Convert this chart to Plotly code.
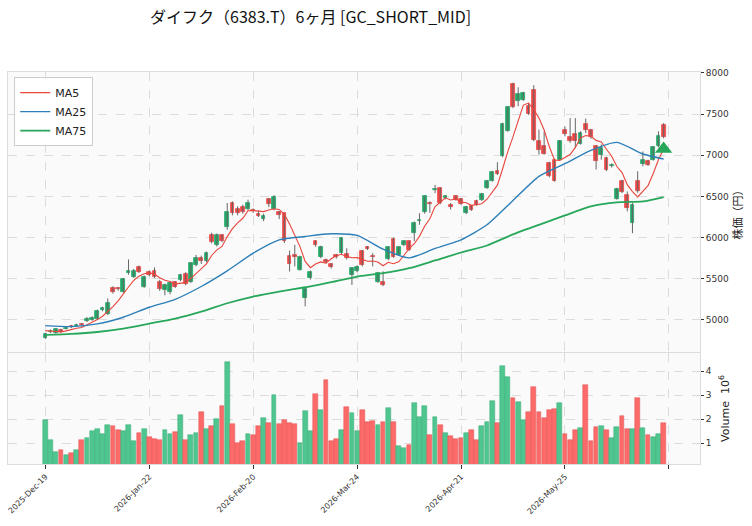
import numpy as np
import pandas as pd
import plotly.graph_objects as go

# ---------------- data ----------------
title_text = "ダイフク（6383.T）6ヶ月 [GC_SHORT_MID]"
start_date = "2025-12-19"
jp_holidays = ["2025-12-31", "2026-01-01", "2026-01-02", "2026-01-12", "2026-02-11",
               "2026-02-23", "2026-03-20", "2026-04-29", "2026-05-04", "2026-05-05", "2026-05-06"]

opens = [4780, 4855, 4845, 4880, 4895, 4925, 4925, 4945, 4990, 5005,
         5010, 5120, 5075, 5393, 5385, 5345, 5568, 5525, 5645, 5405,
         5580, 5596, 5458, 5365, 5345, 5458, 5487, 5556, 5466, 5669,
         5758, 5718, 6034, 5912, 6026, 6123, 6419, 6350, 6366, 6350,
         6340, 6285, 6224, 6470, 6350, 6305, 6295, 5775, 5790, 5612,
         5262, 5505, 5953, 5762, 5730, 5677, 5783, 5811, 5799, 5547,
         5595, 5835, 5880, 5775, 5466, 5462, 5740, 5983, 5791, 5908,
         5953, 6054, 6196, 6305, 6415, 6575, 6601, 6480, 6390, 6500,
         6465, 6300, 6386, 6445, 6460, 6601, 6690, 6812, 6990, 7298,
         7866, 7663, 7675, 7594, 7797, 7177, 7108, 6905, 6946, 6946,
         7310, 7217, 7258, 7136, 7379, 7310, 7108, 7006, 6966, 6865,
         6472, 6690, 6512, 6176, 6690, 6893, 6933, 6946, 7108, 7363]

highs = [4840, 4885, 4900, 4895, 4920, 4940, 4955, 4965, 5035, 5045,
         5125, 5160, 5262, 5410, 5400, 5510, 5735, 5620, 5660, 5540,
         5600, 5637, 5487, 5440, 5470, 5470, 5560, 5580, 5700, 5790,
         5780, 5830, 6060, 6050, 6040, 6419, 6440, 6380, 6400, 6460,
         6355, 6330, 6290, 6480, 6515, 6320, 6300, 5843, 5912, 5780,
         5400, 5600, 5965, 5900, 5745, 5690, 5800, 6000, 5870, 5640,
         5665, 5850, 5895, 5810, 5580, 5590, 5890, 6000, 5895, 5965,
         5965, 6195, 6295, 6510, 6440, 6640, 6610, 6515, 6420, 6515,
         6480, 6385, 6395, 6460, 6540, 6700, 6810, 6915, 7395, 7595,
         7880, 7825, 7770, 7635, 7850, 7310, 7290, 6920, 6960, 7185,
         7350, 7450, 7450, 7290, 7445, 7320, 7120, 7130, 6980, 6900,
         6605, 6700, 6560, 6420, 6805, 7045, 6945, 7110, 7290, 7390]

lows = [4770, 4840, 4835, 4845, 4885, 4900, 4915, 4920, 4975, 4990,
        5000, 5105, 5060, 5320, 5355, 5330, 5550, 5510, 5570, 5390,
        5530, 5510, 5353, 5300, 5312, 5390, 5470, 5420, 5450, 5650,
        5680, 5700, 5930, 5890, 5945, 6095, 6270, 6270, 6290, 6330,
        6300, 6250, 6200, 6370, 6330, 6225, 5935, 5588, 5650, 5600,
        5165, 5490, 5890, 5750, 5685, 5625, 5745, 5800, 5735, 5425,
        5580, 5650, 5850, 5650, 5450, 5410, 5725, 5755, 5780, 5895,
        5835, 5955, 6155, 6290, 6300, 6540, 6405, 6465, 6340, 6450,
        6400, 6285, 6325, 6385, 6445, 6590, 6680, 6760, 6975, 7285,
        7570, 7595, 7660, 7490, 7170, 7007, 7007, 6730, 6680, 6935,
        7230, 7150, 7090, 7130, 7270, 7200, 6825, 6945, 6810, 6850,
        6460, 6540, 6318, 6054, 6545, 6865, 6870, 6935, 7095, 7205]

closes = [4826, 4862, 4890, 4855, 4905, 4912, 4935, 4935, 5015, 5025,
          5112, 5140, 5200, 5335, 5372, 5499, 5596, 5600, 5585, 5527,
          5547, 5527, 5377, 5426, 5454, 5405, 5547, 5434, 5689, 5758,
          5710, 5811, 5945, 6034, 5961, 6309, 6297, 6297, 6309, 6419,
          6318, 6265, 6265, 6405, 6495, 6280, 5960, 5680, 5762, 5770,
          5380, 5582, 5904, 5890, 5698, 5641, 5762, 5993, 5750, 5628,
          5649, 5669, 5864, 5765, 5568, 5426, 5880, 5770, 5882, 5953,
          5847, 6176, 6216, 6500, 6405, 6590, 6419, 6500, 6368, 6462,
          6412, 6375, 6340, 6400, 6525, 6688, 6795, 6772, 7380, 7580,
          7582, 7744, 7756, 7501, 7189, 7067, 7015, 6743, 6690, 7169,
          7258, 7177, 7177, 7270, 7310, 7217, 6925, 7088, 6824, 6885,
          6593, 6553, 6358, 6398, 6569, 6946, 6885, 7096, 7229, 7217]

# volume in millions of shares
volumes_m = [1.97, 1.14, 0.64, 0.72, 0.51, 0.58, 0.72, 1.14, 1.22, 1.51,
             1.60, 1.39, 1.76, 1.72, 1.55, 1.51, 1.76, 1.09, 1.44, 1.60,
             1.25, 1.19, 1.14, 1.55, 1.39, 1.47, 2.18, 1.14, 1.35, 1.43,
             2.30, 1.60, 1.72, 2.01, 2.55, 4.39, 1.80, 1.01, 1.09, 1.39,
             1.35, 1.72, 2.05, 1.85, 3.01, 1.80, 1.97, 1.85, 1.80, 1.01,
             2.35, 1.51, 3.05, 2.39, 3.64, 1.09, 1.18, 1.55, 2.51, 2.26,
             1.51, 2.39, 1.89, 1.93, 1.76, 1.90, 2.49, 1.90, 0.89, 0.82,
             0.93, 2.69, 2.11, 2.55, 1.35, 2.11, 1.76, 1.44, 1.30, 1.18,
             1.23, 1.43, 1.55, 1.14, 1.72, 1.90, 2.76, 1.83, 4.22, 3.75,
             2.87, 2.71, 1.97, 2.30, 3.33, 2.30, 2.04, 2.39, 2.41, 2.67,
             1.39, 1.14, 1.55, 1.62, 3.43, 1.09, 1.66, 1.71, 1.55, 1.22,
             1.66, 2.14, 1.60, 1.60, 2.87, 1.62, 1.35, 1.25, 1.38, 1.86]

# closes just before the window (for the first MA5 values)
prior_closes = [4900, 4916, 4875, 4833]

# MA25 / MA75 at these bar positions
ma_idx = [0, 5, 10, 15, 20, 25, 30, 35, 40, 45, 50, 55, 60, 65, 70, 75, 80, 85, 90, 95,
          100, 105, 110, 115, 119]
ma25 = [4931, 4919, 4952, 5033, 5154, 5251, 5406, 5596, 5811, 5973, 6014, 6046, 6026,
        5860, 5754, 5868, 5973, 6155, 6450, 6743, 6897, 7059, 7156, 7015, 6954]
ma75 = [4818, 4830, 4854, 4895, 4956, 5017, 5101, 5203, 5284, 5345, 5397, 5458, 5527,
        5568, 5628, 5722, 5819, 5904, 6038, 6155, 6269, 6378, 6427, 6439, 6492]

signal_idx = [119]
signal_price = [7075]

price_ticks = [5000, 5500, 6000, 6500, 7000, 7500, 8000]
volume_ticks = [1, 2, 3, 4]

# ---------------- derived ----------------
n = len(closes)
x = np.arange(n)
bday = pd.offsets.CustomBusinessDay(holidays=pd.to_datetime(jp_holidays))
dates = pd.date_range(start=start_date, periods=n, freq=bday)
tick_pos = list(range(0, n, 20))
tick_text = [dates[i].strftime("%Y-%b-%d") for i in tick_pos]
end_tick = [n]  # unlabeled tick/grid at the end of the date locator

ma5 = pd.Series(prior_closes + closes).rolling(5).mean().iloc[len(prior_closes):].to_numpy()

o = np.array(opens, float)
c = np.array(closes, float)
up = c >= o

UP_C = "#22a867"
DN_C = "#ee4646"
VUP_C = "#4fc690"
VDN_C = "#fc6a6a"

body_base = np.minimum(o, c)
body_h = np.abs(c - o)
body_colors = [UP_C if u else DN_C for u in up]
vol_colors = [VUP_C if u else VDN_C for u in up]
vol_edge = ["#3aa874" if u else "#e05252" for u in up]

wx, wy = [], []
for i in range(n):
    wx += [i, i, None]
    wy += [lows[i], highs[i], None]

fig = go.Figure()

fig.add_trace(go.Scatter(x=wx, y=wy, mode="lines", line=dict(color="#666666", width=1),
                         showlegend=False, hoverinfo="skip", xaxis="x", yaxis="y"))
fig.add_trace(go.Bar(x=x, y=body_h, base=body_base, width=0.72,
                     marker=dict(color=body_colors, line=dict(color=body_colors, width=0.8)),
                     showlegend=False, xaxis="x", yaxis="y"))

fig.add_trace(go.Scatter(x=x, y=ma5, mode="lines", name="MA5",
                         line=dict(color="#e8453c", width=1.1), xaxis="x", yaxis="y"))
fig.add_trace(go.Scatter(x=ma_idx, y=ma25, mode="lines", name="MA25",
                         line=dict(color="#2c7fb8", width=1.4, shape="spline", smoothing=0.6),
                         xaxis="x", yaxis="y"))
fig.add_trace(go.Scatter(x=ma_idx, y=ma75, mode="lines", name="MA75",
                         line=dict(color="#27a75a", width=1.8, shape="spline", smoothing=0.6),
                         xaxis="x", yaxis="y"))
fig.add_trace(go.Scatter(x=signal_idx, y=signal_price, mode="markers", showlegend=False,
                         marker=dict(symbol="triangle-up", size=15, color="#27a75a"),
                         xaxis="x", yaxis="y"))

fig.add_trace(go.Bar(x=x, y=volumes_m, width=0.92,
                     marker=dict(color=vol_colors, line=dict(color=vol_edge, width=0.5)),
                     showlegend=False, xaxis="x2", yaxis="y2"))

grid = dict(showgrid=True, gridcolor="#dcdcdc", griddash="dash", gridwidth=0.8)
spine = dict(showline=True, linecolor="#dddddd", linewidth=1, mirror=True)
tickfont = dict(family="DejaVu Sans", size=9, color="#333333")
minor_x = dict(tickmode="array", tickvals=end_tick, showgrid=True, gridcolor="#dcdcdc",
               griddash="dash", gridwidth=0.8)

fig.update_layout(
    width=752, height=526,
    margin=dict(l=8, r=52, t=72, b=62),
    paper_bgcolor="white", plot_bgcolor="#fafafa",
    showlegend=True, barmode="overlay", bargap=0,
    font=dict(family="DejaVu Sans", size=10, color="#222222"),
    title=dict(text=title_text, x=150 / 752, xanchor="left", xref="container",
               y=1 - 17 / 526, yanchor="middle", yref="container",
               font=dict(family="Noto Sans CJK JP", size=16, color="#111111")),
    legend=dict(x=0.009, y=0.987, xanchor="left", yanchor="top",
                bgcolor="rgba(255,255,255,0.85)", bordercolor="#cccccc", borderwidth=1,
                font=dict(family="DejaVu Sans", size=11, color="#222222"),
                tracegroupgap=0, itemwidth=30),
    xaxis=dict(domain=[0, 1], anchor="y", range=[-7.2, 126], tickmode="array", tickvals=tick_pos,
               showticklabels=False, ticks="", zeroline=False, minor=minor_x, **grid, **spine),
    xaxis2=dict(domain=[0, 1], anchor="y2", matches="x", range=[-7.2, 126], tickmode="array",
                tickvals=tick_pos, ticktext=tick_text, tickangle=-45, ticks="outside", ticklen=4,
                tickcolor="#333",
                tickfont=dict(family="DejaVu Sans", size=8, color="#333333"),
                minor=dict(minor_x, ticks="outside", ticklen=4, tickcolor="#333"),
                zeroline=False, **grid, **spine),
    yaxis=dict(domain=[0.2857, 1], anchor="x", side="right", range=[4611, 8010],
               tickvals=price_ticks, ticks="outside", ticklen=3, tickcolor="#333",
               tickfont=tickfont, zeroline=False,
               title=dict(text="株価（円）", standoff=6,
                          font=dict(family="Noto Sans CJK JP", size=11, color="#222222")),
               **grid, **spine),
    yaxis2=dict(domain=[0, 0.2832], anchor="x2", side="right", range=[0.14, 4.76],
                tickvals=volume_ticks, ticks="outside", ticklen=3, tickcolor="#333",
                tickfont=tickfont, zeroline=False,
                title=dict(text="Volume  10<sup>6</sup>", standoff=10,
                           font=dict(family="DejaVu Sans", size=11, color="#222222")),
                **grid, **spine),
)

fig.write_html("out.html")
